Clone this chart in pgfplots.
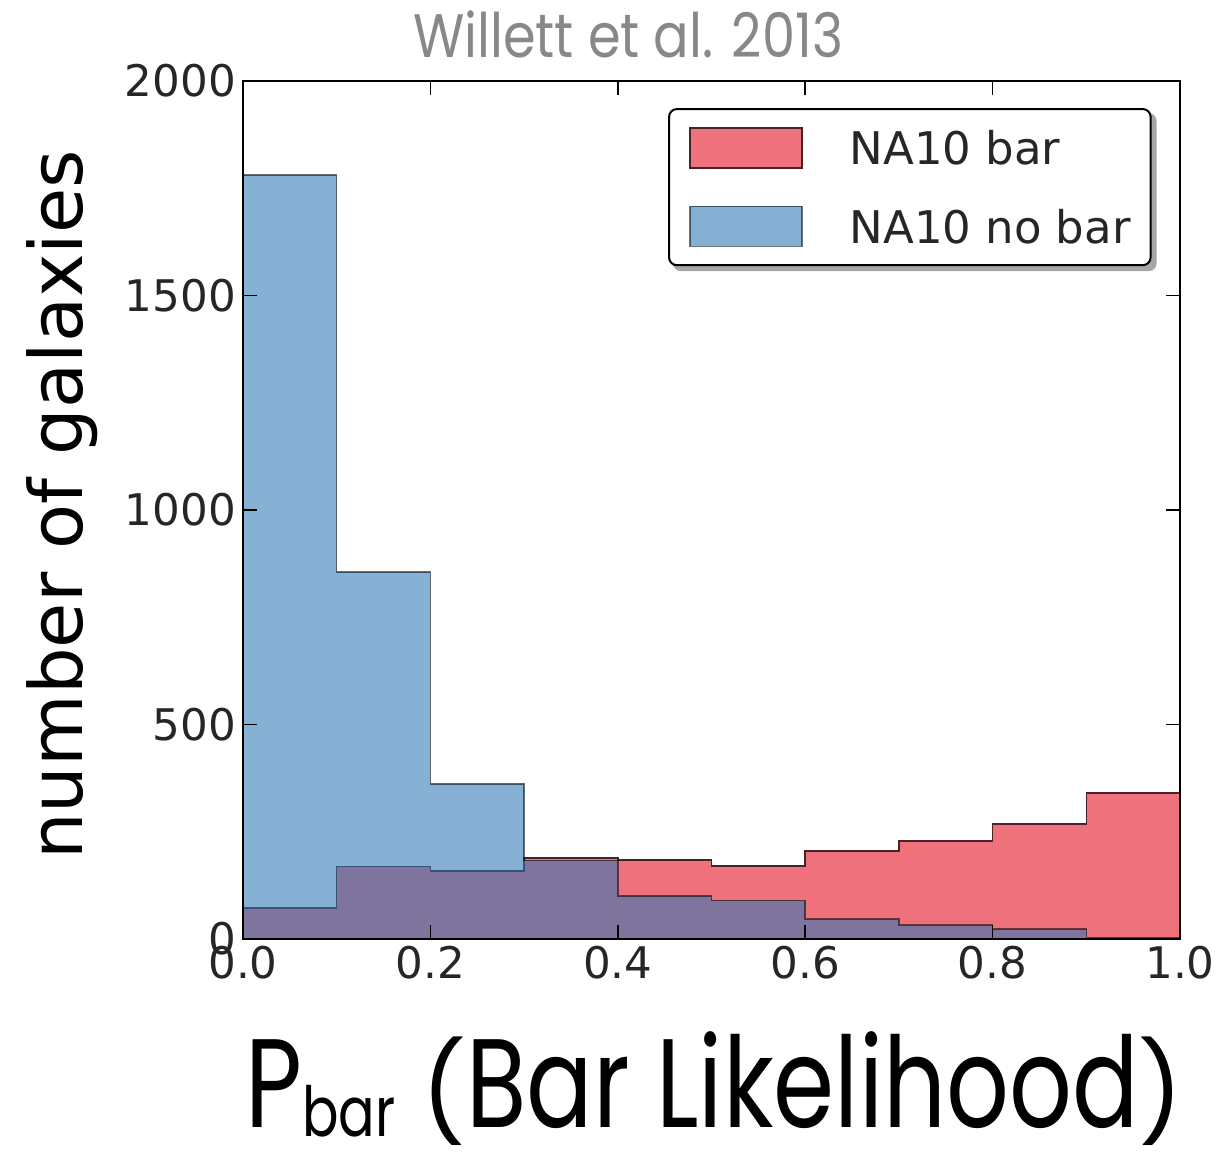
\documentclass[border=0pt]{standalone}
\usepackage{pgfplots}
\pgfplotsset{compat=1.18}
\usepackage{fontspec}
\setmainfont{DejaVu Sans}
\newfontfamily\futura{Poppins}
\usetikzlibrary{backgrounds}

\definecolor{barred}{RGB}{239,113,124}
\definecolor{nobarblue}{RGB}{46,119,181}
\definecolor{titlegray}{RGB}{136,136,136}

% counts per bin of width 0.1, left bin edges
\pgfplotstableread{
x     n
0.0   72
0.1   169
0.2   159
0.3   189
0.4   184
0.5   170
0.6   205
0.7   229
0.8   268
0.9   341
1.0   341
}\barred
\pgfplotstableread{
x     n
0.0   1781
0.1   856
0.2   362
0.3   183
0.4   100
0.5   90
0.6   46
0.7   32
0.8   23
0.9   3
1.0   3
}\nobar

% parentheses of the axis caption, kept close to the cap height
\newcommand\lpar{\scalebox{1}[0.77]{(}}
\newcommand\rpar{\scalebox{1}[0.77]{)}}

\begin{document}
\begin{tikzpicture}[x=1pt,y=1pt]
\useasboundingbox (0,0) rectangle (613.5,576);
\begin{axis}[
  at={(121.5pt,106.5pt)}, anchor=south west,
  scale only axis, width=468.5pt, height=429pt,
  xmin=0, xmax=1, ymin=0, ymax=2000,
  xtick={0,0.2,0.4,0.6,0.8,1.0},
  ytick={0,500,1000,1500,2000},
  xticklabel style={/pgf/number format/.cd, fixed, fixed zerofill, precision=1},
  yticklabel style={/pgf/number format/1000 sep={}},
  /pgf/number format/assume math mode=true,
  tick label style={font=\fontsize{21.8}{21.8}\selectfont, text=black!85},
  tick align=inside, major tick length=7pt,
  every tick/.style={black, line width=0.8pt},
  axis line style={line width=1.2pt},
  axis on top,
  legend cell align=left,
  legend image code/.code={
    \draw[#1, rounded corners=0pt, line width=0.8pt] (0pt,-9.5pt) rectangle (56pt,10.5pt);
  },
  legend style={
    name=leg,
    at={(0.4536,0.9685)}, anchor=north west,
    draw=black, line width=1pt, rounded corners=4pt, fill=white,
    inner xsep=10pt, inner ysep=9pt,
    row sep=18.5pt, column sep=23.5pt,
    font=\fontsize{22.5}{22.5}\selectfont,
    nodes={inner sep=0pt, text=black!85},
  },
]
\addplot[const plot, fill=barred, draw=black!70!barred, line width=0.8pt]
  table[x=x, y=n] {\barred} \closedcycle;
\addlegendentry{NA10 bar}
\addplot[const plot, fill=nobarblue, fill opacity=0.58, draw=black, draw opacity=0.55, line width=0.8pt]
  table[x=x, y=n] {\nobar} \closedcycle;
\addlegendentry{NA10 no bar}
\end{axis}

% legend shadow
\begin{pgfonlayer}{background}
\fill[black!35, rounded corners=4pt]
  ([shift={(2.5pt,-2.5pt)}]leg.south west) rectangle ([shift={(2.5pt,-2.5pt)}]leg.north east);
\end{pgfonlayer}

% title
\node[anchor=base, inner sep=0pt, text=titlegray] at (314,547)
  {\resizebox{215pt}{\height}{\futura\fontsize{30.7}{30.7}\selectfont Willett et al. 2013}};
% y label
\node[rotate=90, anchor=base, inner sep=0pt, font=\fontsize{36.8}{36.8}\selectfont] at (41,323.5)
  {number of galaxies};
% x label
\node[anchor=base west, inner sep=0pt] at (122.5,12.5)
  {\resizebox{469pt}{\height}{\futura\fontsize{63}{63}\selectfont P\raisebox{-4.5pt}{\fontsize{34.6}{34.6}\selectfont bar} \lpar Bar Likelihood\rpar}};
\end{tikzpicture}
\end{document}
